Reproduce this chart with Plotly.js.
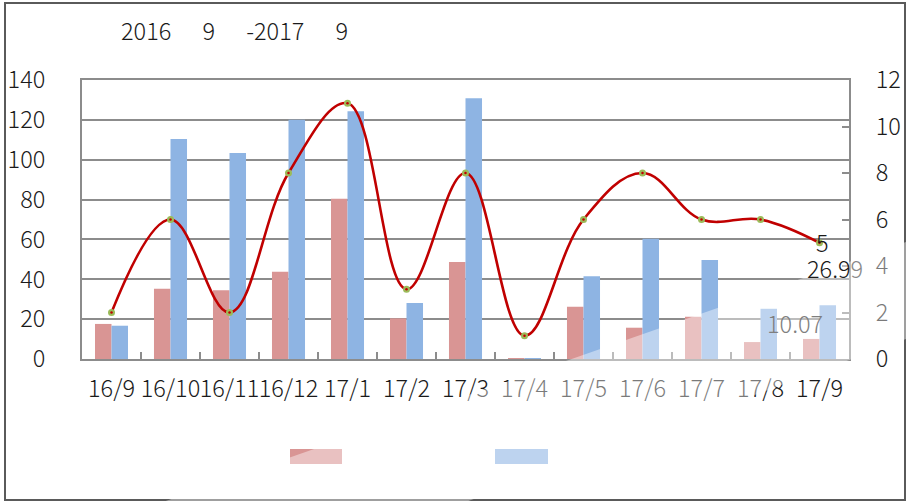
<!DOCTYPE html>
<html>
<head>
<meta charset="utf-8">
<script src="https://cdn.plot.ly/plotly-3.0.1.min.js"></script>
<style>
html,body{margin:0;padding:0;background:#fff;}
#chart{width:906px;height:503px;}
</style>
</head>
<body>
<div id="chart"></div>
<script>
// ---- data ----
var categories = ['16/9','16/10','16/11','16/12','17/1','17/2','17/3','17/4','17/5','17/6','17/7','17/8','17/9'];
var seriesRed  = [17.6, 35.3, 34.5, 43.8, 80.4, 20.4, 48.7, 0.5, 26.2, 15.7, 21.2, 8.5, 10.07];
var seriesBlue = [16.7, 110.4, 103.4, 120.1, 124.3, 28.1, 130.8, 0.5, 41.5, 60.4, 49.7, 25.2, 26.99];
var lineValues = [2, 6, 2, 8, 11, 3, 8, 1, 6, 8, 6, 6, 5];
var leftTicks  = [0, 20, 40, 60, 80, 100, 120, 140];
var rightTicks = [0, 2, 4, 6, 8, 10, 12];
var SP = '\u00a0\u00a0\u00a0\u00a0\u00a0\u00a0';
var titleText  = '2016' + SP + '9' + SP + '-2017' + SP + '9';

// ---- geometry helpers (pixel -> paper) ----
var W = 906, H = 503, L = 82, R = 849, T = 80, B = 359;
function px(x){ return (x - L) / (R - L); }
function py(y){ return (B - y) / (B - T); }

var FONT = 'Noto Sans CJK SC, Segoe UI, Open Sans, sans-serif';
var TF = {family: FONT, size: 23.5, color: '#1a1a1a', weight: 300};

var traces = [
  {type:'bar', x:categories, y:seriesRed, name:' ', marker:{color:'#D99594'}, yaxis:'y', hoverinfo:'none'},
  {type:'bar', x:categories, y:seriesBlue, name:' ', marker:{color:'#8EB4E3'}, yaxis:'y', hoverinfo:'none'},
  {type:'scatter', mode:'lines+markers', x:categories, y:lineValues, yaxis:'y2',
   line:{color:'#C00000', width:2.6, shape:'spline', smoothing:1.1},
   marker:{color:'#9BBB59', size:7}, cliponaxis:false, hoverinfo:'none'},
  {type:'scatter', mode:'markers', x:categories, y:lineValues, yaxis:'y2',
   marker:{color:'#C00000', size:2.5}, cliponaxis:false, hoverinfo:'none'}
];

var last = categories.length - 1;

var layout = {
  width: W, height: H,
  margin: {l: L, r: W - R, t: T, b: H - B, pad: 0, autoexpand: false},
  paper_bgcolor: '#ffffff', plot_bgcolor: '#ffffff',
  showlegend: false,
  barmode: 'group', bargap: 0.44, bargroupgap: 0,
  font: TF,
  xaxis: {
    type: 'category', range: [-0.5, categories.length - 0.5], autorange: false,
    tickson: 'boundaries', ticks: 'inside', ticklen: 7, tickwidth: 2,
    tickcolor: '#8c8c8c', showline: true, linecolor: '#8c8c8c', linewidth: 2, mirror: true,
    showgrid: false, tickfont: TF, tickangle: 0, automargin: false,
    ticklabelstandoff: 8, fixedrange: true
  },
  yaxis: {
    range: [0, 140], tickvals: leftTicks, showgrid: true, gridcolor: '#8c8c8c', gridwidth: 2,
    showline: true, linecolor: '#8c8c8c', linewidth: 2, zeroline: false, ticks: '',
    tickfont: TF, automargin: false,
    ticklabelstandoff: 30, fixedrange: true
  },
  yaxis2: {
    range: [0, 12], tickvals: rightTicks, overlaying: 'y', side: 'right', showgrid: false,
    showline: true, linecolor: '#8c8c8c', linewidth: 2, zeroline: false,
    ticks: 'inside', ticklen: 7, tickwidth: 2, tickcolor: '#8c8c8c',
    tickfont: TF, automargin: false,
    ticklabelstandoff: 20, fixedrange: true
  },
  annotations: [
    {xref:'paper', yref:'paper', x: px(119), y: py(30), xanchor:'left', yanchor:'middle',
     text: titleText, showarrow:false, font:TF},
    {xref:'x', yref:'y2', x: categories[last], y: lineValues[last], text: String(lineValues[last]),
     showarrow:false, xshift:3, yshift:1, font:TF},
    {xref:'x', yref:'y', x: categories[last], y: seriesBlue[last],
     text: '26.9<span style="color:#8a8a8a">9</span>',
     showarrow:false, xshift:15, yshift:37, font:TF},
    {xref:'x', yref:'y', x: categories[last], y: seriesRed[last], text: String(seriesRed[last]),
     showarrow:false, xshift:-25, yshift:16, font:{family:FONT, size:23.5, color:'#7f7f7f', weight:300}}
  ],
  shapes: [
    // legend swatches
    {type:'rect', xref:'paper', yref:'paper', x0:px(290), x1:px(342), y0:py(449), y1:py(464),
     fillcolor:'#D99594', line:{width:0}},
    {type:'rect', xref:'paper', yref:'paper', x0:px(495), x1:px(548), y0:py(449), y1:py(464),
     fillcolor:'#8EB4E3', line:{width:0}},
    // faded diagonal band (scan artifact)
    {type:'path', xref:'paper', yref:'paper', layer:'above',
     path: 'M ' + px(160) + ',' + py(503) + ' L ' + px(906) + ',' + py(242) + ' L ' + px(906) + ',' + py(339) +
           ' L ' + px(463) + ',' + py(503) + ' Z',
     fillcolor:'rgba(255,255,255,0.42)', line:{width:0}},
    // outer frame
    {type:'rect', xref:'paper', yref:'paper', x0:px(5), x1:px(905), y0:py(500), y1:py(3),
     line:{color:'#5a5a5a', width:2}, fillcolor:'rgba(0,0,0,0)', layer:'below'}
  ]
};

Plotly.newPlot('chart', traces, layout, {staticPlot:true, displayModeBar:false});
</script>
</body>
</html>
